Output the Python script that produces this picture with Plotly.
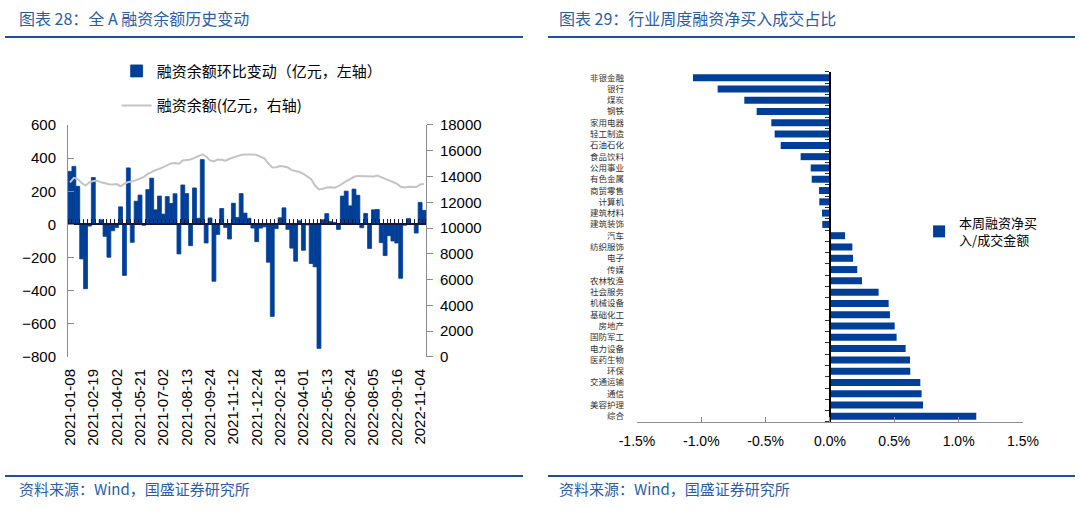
import plotly.graph_objects as go

# ---- left chart: weekly margin financing balance ----
dates = [
    '2021-01-08', '2021-01-15', '2021-01-22', '2021-01-29', '2021-02-05', '2021-02-10',
    '2021-02-19', '2021-02-26', '2021-03-05', '2021-03-12', '2021-03-19', '2021-03-26',
    '2021-04-02', '2021-04-09', '2021-04-16', '2021-04-23', '2021-04-30', '2021-05-14',
    '2021-05-21', '2021-05-28', '2021-06-04', '2021-06-11', '2021-06-18', '2021-06-25',
    '2021-07-02', '2021-07-09', '2021-07-16', '2021-07-23', '2021-07-30', '2021-08-06',
    '2021-08-13', '2021-08-20', '2021-08-27', '2021-09-03', '2021-09-10', '2021-09-17',
    '2021-09-24', '2021-09-30', '2021-10-15', '2021-10-22', '2021-10-29', '2021-11-05',
    '2021-11-12', '2021-11-19', '2021-11-26', '2021-12-03', '2021-12-10', '2021-12-17',
    '2021-12-24', '2022-01-07', '2022-01-14', '2022-01-21', '2022-01-28', '2022-02-11',
    '2022-02-18', '2022-02-25', '2022-03-04', '2022-03-11', '2022-03-18', '2022-03-25',
    '2022-04-01', '2022-04-08', '2022-04-15', '2022-04-22', '2022-04-29', '2022-05-06',
    '2022-05-13', '2022-05-20', '2022-05-27', '2022-06-02', '2022-06-10', '2022-06-17',
    '2022-06-24', '2022-07-01', '2022-07-08', '2022-07-15', '2022-07-22', '2022-07-29',
    '2022-08-05', '2022-08-12', '2022-08-19', '2022-08-26', '2022-09-02', '2022-09-09',
    '2022-09-16', '2022-09-23', '2022-09-30', '2022-10-14', '2022-10-21', '2022-10-28',
    '2022-11-04', '2022-11-11',
]

# week-on-week change (亿元, left axis)
margin_change = [
    320, 350, 230, -208, -388, -10, 283, 5, 28, -72, -198, -38,
    -18, 106, -308, 341, -108, 140, 177, -5, 210, 279, 88, 171,
    62, 168, 126, 185, -178, 238, 186, -128, 220, 37, 391, -112,
    39, -343, -60, 96, -18, -88, 128, 42, 186, 68, 37, -22,
    -104, -22, -15, -228, -555, -25, 40, 100, -30, -143, -222, 22,
    -156, -3, -236, -256, -748, 28, 65, 17, 12, -30, 171, 201,
    112, 213, 176, -20, 66, -145, 88, 90, -110, -188, -68, -100,
    -112, -325, -5, 35, 2, -52, 133, 85,
]

# financing balance (亿元, right axis)
margin_balance = [
    13550, 13900, 13800, 13500, 13300, 13550, 13650, 13680, 13550, 13450, 13400, 13380,
    13420, 13250, 13450, 13580, 13620, 13720, 13850, 13980, 14200, 14380, 14500, 14600,
    14750, 14900, 15020, 15050, 15000, 15250, 15300, 15330, 15450, 15600, 15720, 15560,
    15250, 15180, 15330, 15300, 15230, 15380, 15480, 15590, 15680, 15720, 15730, 15720,
    15670, 15550, 15400, 15000, 14700, 14720, 14810, 14780, 14700, 14500, 14420, 14350,
    14200, 14030, 13800, 13300, 13000, 13060, 13150, 13160, 13130, 13250, 13460, 13650,
    13800, 13980, 14050, 14030, 14040, 13980, 14000, 14080, 13950, 13850, 13700, 13620,
    13450, 13200, 13150, 13210, 13200, 13190, 13380, 13420,
]

date_ticks = dates[::6]
left_ticks = [600, 400, 200, 0, -200, -400, -600, -800]
right_ticks = [18000, 16000, 14000, 12000, 10000, 8000, 6000, 4000, 2000, 0]

# ---- right chart: industry net buy / turnover ----
industries = [
    '非银金融', '银行', '煤炭', '钢铁', '家用电器', '轻工制造', '石油石化', '食品饮料',
    '公用事业', '有色金属', '商贸零售', '计算机', '建筑材料', '建筑装饰', '汽车', '纺织服饰',
    '电子', '传媒', '农林牧渔', '社会服务', '机械设备', '基础化工', '房地产', '国防军工',
    '电力设备', '医药生物', '环保', '交通运输', '通信', '美容护理', '综合',
]
net_buy_ratio = [
    -1.065, -0.873, -0.666, -0.570, -0.456, -0.430, -0.383, -0.228,
    -0.150, -0.142, -0.085, -0.083, -0.062, -0.060, 0.117, 0.174,
    0.179, 0.212, 0.249, 0.378, 0.456, 0.466, 0.503, 0.518,
    0.588, 0.622, 0.624, 0.702, 0.712, 0.723, 1.137,
]
pct_ticks = [-1.5, -1.0, -0.5, 0.0, 0.5, 1.0, 1.5]
pct_labels = ['-1.5%', '-1.0%', '-0.5%', '0.0%', '0.5%', '1.0%', '1.5%']

BLUE = '#003f98'
HEAD = '#2a5caa'
GREY = '#8c8c8c'
NUM_FONT = dict(family='Liberation Sans, Arial', size=15, color='#000000')
CJK = 'Noto Sans CJK SC'

# subplot areas (paper fractions)
left_x = [0.063, 0.3944]
left_y = [0.3014, 0.7554]
right_x = [0.5898, 0.9472]
right_y = [0.1742, 0.8591]
zero_y = left_y[0] + 800 / 1400 * (left_y[1] - left_y[0])
zero_x = right_x[0] + 0.5 * (right_x[1] - right_x[0])

fig = go.Figure()

fig.add_trace(go.Bar(
    x=dates, y=margin_change, name='融资余额环比变动（亿元，左轴）',
    marker=dict(color=BLUE, line=dict(color=BLUE, width=0.8)), width=1.0,
    xaxis='x', yaxis='y', legend='legend', legendgroup='g1',
))
fig.add_trace(go.Scatter(
    x=dates, y=margin_balance, name='融资余额(亿元，右轴)', mode='lines',
    line=dict(color='#c4c4c4', width=2),
    xaxis='x', yaxis='y2', legend='legend', legendgroup='g2',
))
# empty trace so the zero category axis (ticks) gets drawn
fig.add_trace(go.Scatter(x=[], y=[], xaxis='x3', yaxis='y', showlegend=False, hoverinfo='skip'))

fig.add_trace(go.Bar(
    x=net_buy_ratio, y=industries, orientation='h', name='本周融资净买<br>入/成交金额',
    marker=dict(color=BLUE, line=dict(width=0)), width=0.62,
    xaxis='x2', yaxis='y3', legend='legend2',
))
fig.add_trace(go.Scatter(x=[], y=[], xaxis='x2', yaxis='y4', showlegend=False, hoverinfo='skip'))

fig.update_layout(
    width=1080, height=511,
    margin=dict(l=0, r=0, t=0, b=0, autoexpand=False),
    paper_bgcolor='white', plot_bgcolor='white',
    font=dict(family=CJK, color='#000000'),
    # left chart axes
    xaxis=dict(
        domain=left_x, anchor='y', type='category', range=[-0.5, len(dates) - 0.5],
        tickmode='array', tickvals=date_ticks, tickangle=-90, tickfont=NUM_FONT,
        showline=False, ticks='', showgrid=False, ticklabelstandoff=8,
    ),
    yaxis=dict(
        domain=left_y, anchor='x', range=[-800, 600], tickvals=left_ticks,
        showline=True, linecolor=GREY, linewidth=1, ticks='inside', ticklen=6,
        tickcolor=GREY, showgrid=False, zeroline=False, tickfont=NUM_FONT,
        ticklabelstandoff=8,
    ),
    yaxis2=dict(
        overlaying='y', side='right', anchor='x', range=[0, 18000], tickvals=right_ticks,
        tickformat='d', showline=True, linecolor=GREY, linewidth=1, ticks='outside',
        ticklen=6, tickcolor=GREY, showgrid=False, zeroline=False, tickfont=NUM_FONT,
        ticklabelstandoff=4,
    ),
    xaxis3=dict(
        overlaying='x', anchor='free', position=zero_y, side='top',
        range=[-0.5, len(dates) - 0.5], tickvals=[i - 0.5 for i in range(len(dates) + 1)],
        showticklabels=False, ticks='outside', ticklen=4, tickcolor='#1a1a3a',
        showline=True, linecolor='#101840', linewidth=2, showgrid=False,
        zeroline=False, layer='above traces',
    ),
    # right chart axes
    xaxis2=dict(
        domain=right_x, anchor='y3', range=[-1.5, 1.5], tickvals=pct_ticks,
        ticktext=pct_labels, showline=True, linecolor=GREY, linewidth=1,
        ticks='inside', ticklen=5, tickcolor=GREY, showgrid=False, zeroline=False,
        tickfont=dict(family='Liberation Sans, Arial', size=14, color='#000000'),
        ticklabelstandoff=6,
    ),
    yaxis3=dict(
        domain=right_y, anchor='x2', type='category', autorange='reversed',
        tickmode='array', tickvals=industries,
        showline=False, ticks='', showgrid=False,
        tickfont=dict(family=CJK, size=8.5, color='#333333'), ticklabelstandoff=12,
    ),
    yaxis4=dict(
        overlaying='y3', anchor='free', position=zero_x,
        range=[len(industries) - 0.5, -0.5],
        tickvals=[i - 0.5 for i in range(len(industries) + 1)],
        showticklabels=False, ticks='outside', ticklen=4, tickcolor='#333333',
        showline=True, linecolor='#000000', linewidth=1.5, showgrid=False,
        zeroline=False, layer='above traces',
    ),
    legend=dict(
        x=0.108, y=0.893, xanchor='left', yanchor='top', bgcolor='rgba(0,0,0,0)',
        font=dict(family=CJK, size=15, color='#000000'),
        traceorder='grouped', tracegroupgap=12, itemwidth=30,
    ),
    legend2=dict(
        x=0.851, y=0.593, xanchor='left', yanchor='top', bgcolor='rgba(0,0,0,0)',
        font=dict(family=CJK, size=13, color='#000000'),
    ),
    showlegend=True,
)

# headers, rules and source notes
for x0, x1, tx, title in [
    (5, 523, 17, '图表 28：全 A 融资余额历史变动'),
    (548, 1075, 557, '图表 29：行业周度融资净买入成交占比'),
]:
    fig.add_annotation(
        text=title, xref='paper', yref='paper', x=tx / 1080, y=1 - 18 / 511,
        xanchor='left', yanchor='middle', showarrow=False,
        font=dict(family=CJK, size=16, color=HEAD),
    )
    fig.add_annotation(
        text='资料来源：Wind，国盛证券研究所', xref='paper', yref='paper',
        x=tx / 1080, y=1 - 488 / 511, xanchor='left', yanchor='middle',
        showarrow=False, font=dict(family=CJK, size=15, color=HEAD),
    )
    for yy in (37, 476):
        fig.add_shape(
            type='line', xref='paper', yref='paper', x0=x0 / 1080, x1=x1 / 1080,
            y0=1 - yy / 511, y1=1 - yy / 511, line=dict(color='#1f4e9c', width=2),
        )

# drop the browser's default page margin so the figure sits at the top-left corner
fig.write_html(
    'out.html',
    config={'displayModeBar': False},
    post_script="document.body.style.margin='0px';",
)
